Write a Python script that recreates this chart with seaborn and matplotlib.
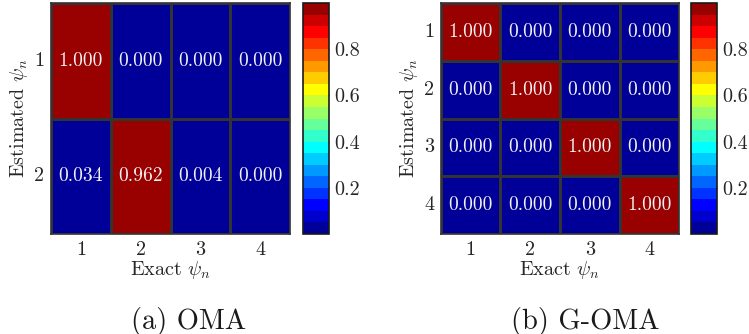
import numpy as np
import pandas as pd
import matplotlib
matplotlib.use("Agg")
import matplotlib.pyplot as plt
from matplotlib.colors import ListedColormap
import seaborn as sns

# MAC-style correlation values between estimated and exact mode shapes
exact_labels = ["1", "2", "3", "4"]
oma_rows = ["1", "2"]
oma_values = [
    [1.000, 0.000, 0.000, 0.000],
    [0.034, 0.962, 0.004, 0.000],
]
goma_rows = ["1", "2", "3", "4"]
goma_values = [
    [1.000, 0.000, 0.000, 0.000],
    [0.000, 1.000, 0.000, 0.000],
    [0.000, 0.000, 1.000, 0.000],
    [0.000, 0.000, 0.000, 1.000],
]
captions = ["(a) OMA", "(b) G-OMA"]
cbar_ticks = [0.2, 0.4, 0.6, 0.8]

sns.set_theme(style="white")
plt.rcParams["font.family"] = ["cmr10"]
plt.rcParams["mathtext.fontset"] = "cm"
plt.rcParams["axes.formatter.use_mathtext"] = True

# 20-level jet-like palette (dark blue -> dark red)
jet20 = ["#000099", "#0000cc", "#0000ff", "#0033ff", "#0066ff", "#0099ff",
         "#00ccff", "#00ffff", "#33ffcc", "#66ff99", "#99ff66", "#ccff33",
         "#ffff00", "#ffcc00", "#ff9900", "#ff6600", "#ff3300", "#ff0000",
         "#cc0000", "#990000"]
cmap = ListedColormap(jet20)

W, H = 749, 334
fig = plt.figure(figsize=(W / 100, H / 100), dpi=100)


def frac(x0, x1, y0, y1):
    return [x0 / W, 1 - y1 / H, (x1 - x0) / W, (y1 - y0) / H]


panels = [
    (oma_values, oma_rows, frac(51, 290, 3, 234), frac(303, 329, 3, 234), 189),
    (goma_values, goma_rows, frac(441, 679, 3, 234), frac(691, 717, 3, 234), 585),
]

txt = "#262626"
for (vals, rows, ax_box, cb_box, cap_x), cap in zip(panels, captions):
    ax = fig.add_axes(ax_box)
    cax = fig.add_axes(cb_box)
    df = pd.DataFrame(vals, index=rows, columns=exact_labels)
    sns.heatmap(df, ax=ax, cbar_ax=cax, cmap=cmap, vmin=0, vmax=1,
                annot=True, fmt=".3f",
                annot_kws={"color": "#f2f2f2", "fontsize": 14},
                linewidths=1.0, linecolor="#333333",
                cbar_kws={"ticks": cbar_ticks})
    for sp in ax.spines.values():
        sp.set_visible(True)
        sp.set_color("#333333")
        sp.set_linewidth(1.2)
    ax.tick_params(axis="both", length=0, labelsize=14.5, colors=txt, pad=5)
    ax.set_yticklabels(ax.get_yticklabels(), rotation=0)
    ax.set_xlabel(r"Exact $\psi_n$", fontsize=14.5, color=txt, labelpad=0)
    ax.set_ylabel(r"Estimated $\psi_n$", fontsize=14.5, color=txt, labelpad=3)

    cax.tick_params(direction="in", length=3, width=1, colors="#262626",
                    labelsize=14.5, right=True, pad=4)
    cax.set_yticklabels(["0.2", "0.4", "0.6", "0.8"])
    cb = ax.collections[0].colorbar
    cb.outline.set_edgecolor("#1a1a1a")
    cb.outline.set_linewidth(1.2)

    fig.text(cap_x / W, 1 - 321 / H, cap, ha="center", va="center",
             fontsize=20.5, color="#1a1a1a")

fig.savefig("out.png", dpi=100)
